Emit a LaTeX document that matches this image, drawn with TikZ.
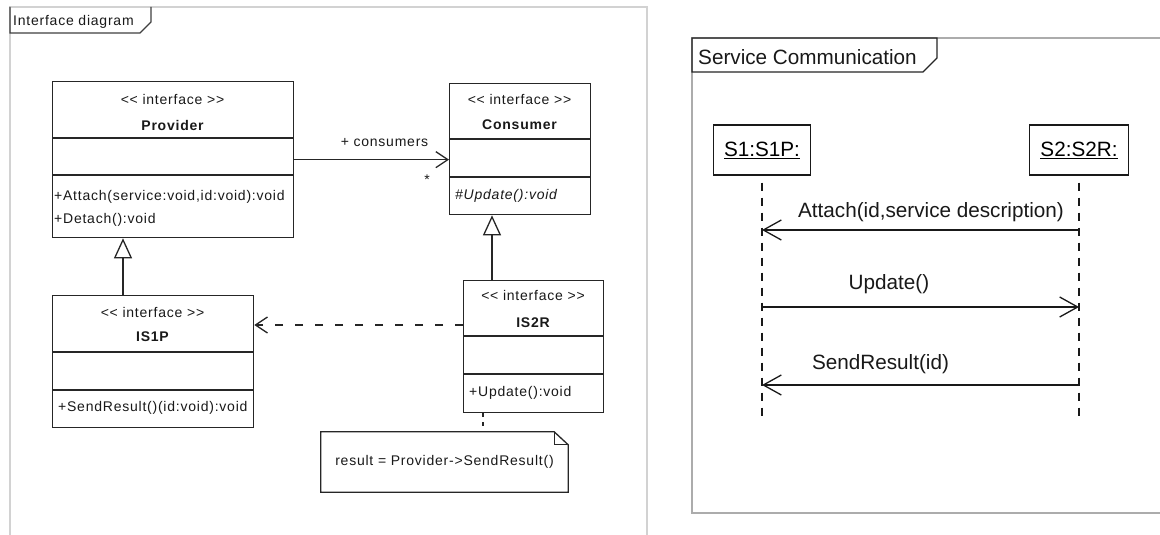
\documentclass[tikz,border=0pt]{standalone}
\usepackage{fontspec}
\setmainfont{Liberation Sans}
\newfontfamily\uif[LetterSpace=5.5]{Liberation Sans}
\usetikzlibrary{arrows.meta}
\begin{document}
\begin{tikzpicture}[x=1pt,y=-1pt,
  box/.style={draw=black!85, line width=1.3pt, inner sep=0pt, anchor=north west, fill=white},
  lbox/.style={draw=black!90, line width=1.3pt, inner sep=0pt, fill=white, font=\fontsize{20.7}{24}\selectfont},
  small/.style={font=\uif\fontsize{14}{16}\selectfont, text=black!90, inner sep=0pt},
  big/.style={font=\fontsize{20.7}{24}\selectfont, text=black!90, inner sep=0pt},
  divider/.style={draw=black!85, line width=1.3pt},
  gen/.style={draw=black!85, line width=1.3pt, -{Triangle[length=20pt,width=18pt,fill=white]}},
  assoc/.style={draw=black!85, line width=1.3pt, -{Straight Barb[length=12pt,width=16pt]}},
  dep/.style={draw=black!85, line width=1.3pt, dash pattern=on 8pt off 12pt, -{Straight Barb[length=12pt,width=16pt]}},
  msg/.style={draw=black!90, line width=1.3pt, -{Straight Barb[length=18pt,width=20pt]}},
  life/.style={draw=black!90, line width=1.2pt, dash pattern=on 8pt off 7pt, dash phase=8pt},
  tabline/.style={draw=black!75, line width=1.2pt},
]
\useasboundingbox (0,0) rectangle (1160,535);
\fill[white] (0,0) rectangle (1160,535);

% ---------- left frame ----------
\draw[gray!35, line width=2.5pt] (10,545) -- (10,7) -- (647,7) -- (647,545);
\draw[tabline] (10,7) -- (10,33) -- (140,33) -- (151,22) -- (151,7);
\node[small, anchor=west] (ltab) at (13,22) {Interface diagram};

% Provider
\node[box, minimum width=241pt, minimum height=156pt] (prov) at (52,81) {};
\draw[divider] ([yshift=-57pt]prov.north west) -- ([yshift=-57pt]prov.north east);
\draw[divider] ([yshift=-94pt]prov.north west) -- ([yshift=-94pt]prov.north east);
\node[small] (provst) at (172.5,99) {<< interface >>};
\node[small, font=\uif\bfseries\fontsize{14}{16}\selectfont] (provnm) at (172.5,125) {Provider};
\node[small, anchor=west] (provm1) at (54,197) {+Attach(service:void,id:void):void};
\node[small, anchor=west] (provm2) at (54,220) {+Detach():void};

% Consumer
\node[box, minimum width=141pt, minimum height=131pt] (cons) at (449,83) {};
\draw[divider] ([yshift=-56pt]cons.north west) -- ([yshift=-56pt]cons.north east);
\draw[divider] ([yshift=-94pt]cons.north west) -- ([yshift=-94pt]cons.north east);
\node[small] (consst) at (519.5,99) {<< interface >>};
\node[small, font=\uif\bfseries\fontsize{14}{16}\selectfont] (consnm) at (519.5,125) {Consumer};
\node[small, anchor=west, font=\uif\itshape\fontsize{14}{16}\selectfont] (consm1) at (455,196) {\#Update():void};

% IS1P
\node[box, minimum width=201pt, minimum height=132pt] (is1p) at (52,295) {};
\draw[divider] ([yshift=-57pt]is1p.north west) -- ([yshift=-57pt]is1p.north east);
\draw[divider] ([yshift=-95pt]is1p.north west) -- ([yshift=-95pt]is1p.north east);
\node[small] (is1pst) at (152.5,312) {<< interface >>};
\node[small, font=\uif\bfseries\fontsize{14}{16}\selectfont] (is1pnm) at (152.5,337) {IS1P};
\node[small, anchor=west] (is1pm1) at (58,408) {+SendResult()(id:void):void};

% IS2R
\node[box, minimum width=140pt, minimum height=132pt] (is2r) at (463,280) {};
\draw[divider] ([yshift=-56pt]is2r.north west) -- ([yshift=-56pt]is2r.north east);
\draw[divider] ([yshift=-94pt]is2r.north west) -- ([yshift=-94pt]is2r.north east);
\node[small] (is2rst) at (533,295) {<< interface >>};
\node[small, font=\uif\bfseries\fontsize{14}{16}\selectfont] (is2rnm) at (533,323) {IS2R};
\node[small, anchor=west] (is2rm1) at (469,393) {+Update():void};

% Note
\node[small, minimum width=247pt, minimum height=60pt] (note) at (444.5,462) {result = Provider->SendResult()};
\draw[black!85, line width=1.3pt] (note.north west) -- ([xshift=-14pt]note.north east) -- ([yshift=-13pt]note.north east) -- (note.south east) -- (note.south west) -- cycle;
\draw[black!85, line width=1.1pt] ([xshift=-14pt]note.north east) -- ([xshift=-14pt,yshift=-13pt]note.north east) -- ([yshift=-13pt]note.north east);
\coordinate (na) at ([xshift=20pt]is2r.south west);
\draw[black!85, line width=1.3pt, dash pattern=on 4pt off 5pt] (na) -- (na |- note.north);

% Connectors
\draw[assoc] (prov.east) -- (prov.east -| cons.west);
\node[small] (assocrole) at (384.5,143) {+ consumers};
\node[small] (assocmult) at (427,180) {*};
\draw[gen] ([xshift=71pt]is1p.north west) -- ([xshift=71pt]prov.south west);
\draw[gen] ([xshift=29pt]is2r.north west) -- ([xshift=43pt]cons.south west);
\coordinate (d1) at ([yshift=-45pt]is2r.north west);
\draw[dep] (d1) -- (d1 -| is1p.east);

% ---------- right frame ----------
\draw[gray!65, line width=2pt] (1170,38) -- (692,38) -- (692,513) -- (1170,513);
\draw[black!85, line width=1.3pt] (692,38) -- (692,72) -- (923,72) -- (937,58) -- (937,38) -- cycle;
\node[big, anchor=west] (rtab) at (698,57) {Service Communication};

\node[lbox, minimum width=97pt, minimum height=50pt] (s1) at (762,150) {\underline{S1:S1P:}};
\node[lbox, minimum width=99pt, minimum height=50pt] (s2) at (1079,150) {\underline{S2:S2R:}};
\coordinate (s1e) at (762,418);
\coordinate (s2e) at (1079,418);
\draw[life] (s1.south) -- (s1e);
\draw[life] (s2.south) -- (s2e);

\coordinate (m1) at (0,230);
\coordinate (m2) at (0,307);
\coordinate (m3) at (0,385);
\draw[msg] (s2e |- m1) -- (s1e |- m1);
\draw[msg] (s1e |- m2) -- (s2e |- m2);
\draw[msg] (s2e |- m3) -- (s1e |- m3);
\node[big] (l1) at (931,212) {Attach(id,service description)};
\node[big] (l2) at (889,284) {Update()};
\node[big] (l3) at (880.5,364) {SendResult(id)};
\end{tikzpicture}
\end{document}
